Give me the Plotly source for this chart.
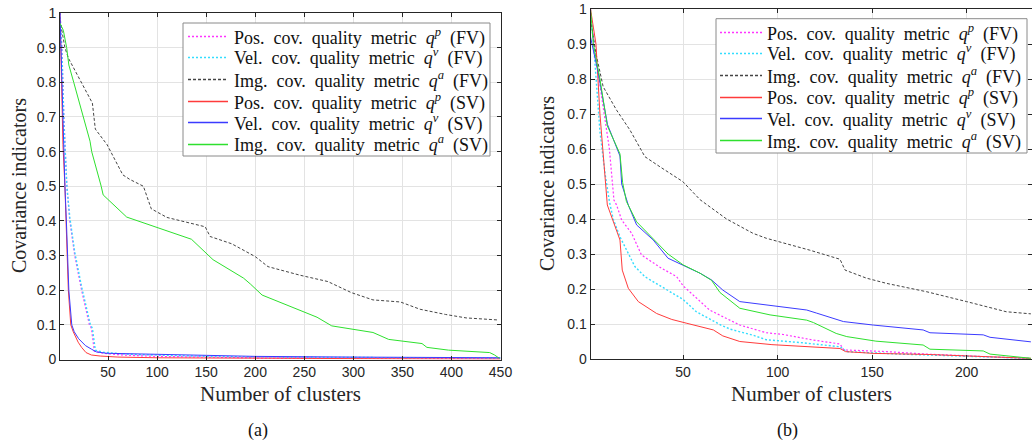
import plotly.graph_objects as go

W, H = 1032, 443

# ---------------- data: panel (a) ----------------
a_fv_pos_x = [1, 3, 5, 8, 11, 16, 23, 27, 31, 33, 36, 45, 60, 80, 100, 150, 200, 300, 450]
a_fv_pos_y = [1.0, 0.9, 0.7, 0.5, 0.4, 0.3, 0.2, 0.15, 0.1, 0.09, 0.024, 0.018, 0.014, 0.011, 0.009, 0.007, 0.005, 0.004, 0.003]
a_fv_vel_x = [1, 3, 5, 8, 11, 16, 23, 28, 32, 34, 37, 45, 60, 80, 100, 150, 200, 300, 450]
a_fv_vel_y = [1.0, 0.88, 0.68, 0.5, 0.41, 0.31, 0.21, 0.15, 0.1, 0.09, 0.027, 0.021, 0.017, 0.014, 0.012, 0.009, 0.007, 0.005, 0.004]
a_fv_img_x = [1, 4, 6, 9.5, 23, 32, 34, 37, 49, 65, 72, 86, 94, 110, 137, 149, 154, 176, 200, 205, 213,
              246, 274, 298, 320, 348, 368, 394, 415, 448]
a_fv_img_y = [0.98, 0.93, 0.9, 0.87, 0.8, 0.75, 0.74, 0.665, 0.62, 0.533, 0.52, 0.5, 0.435, 0.41, 0.39, 0.383, 0.355, 0.334, 0.297, 0.285, 0.268,
              0.243, 0.225, 0.193, 0.172, 0.166, 0.145, 0.13, 0.12, 0.114]
a_sv_pos_x = [1, 4, 6, 7, 9.5, 12, 14.5, 19.5, 23, 27.5, 33, 42, 60, 100, 150, 250, 350, 450]
a_sv_pos_y = [1.0, 0.62, 0.5, 0.4, 0.2, 0.1, 0.08, 0.05, 0.035, 0.02, 0.013, 0.01, 0.007, 0.005, 0.004, 0.003, 0.002, 0.001]
a_sv_vel_x = [1, 4.5, 6, 7.5, 10, 13, 15.5, 20, 27, 33, 38, 48, 72, 100, 150, 200, 300, 450]
a_sv_vel_y = [1.0, 0.6, 0.5, 0.4, 0.2, 0.1, 0.08, 0.06, 0.04, 0.03, 0.022, 0.018, 0.016, 0.015, 0.012, 0.009, 0.007, 0.005]
a_sv_img_x = [1, 4.4, 7.8, 10, 15, 25, 31.6, 33.3, 38.4, 43, 45, 69, 135, 157, 188, 195, 207, 230, 250, 263, 278,
              300, 320, 336, 348, 370, 375, 397, 439, 444, 449]
a_sv_img_y = [0.97, 0.95, 0.9, 0.85, 0.8, 0.7, 0.63, 0.6, 0.55, 0.5, 0.475, 0.411, 0.347, 0.288, 0.235, 0.218, 0.186, 0.16, 0.138, 0.122, 0.097,
              0.087, 0.078, 0.058, 0.054, 0.046, 0.035, 0.027, 0.02, 0.013, 0.003]

# ---------------- data: panel (b) ----------------
b_fv_pos_x = [1, 3.3, 11, 13.4, 14.8, 17.5, 22.8, 28, 37.8, 46.6, 50, 57, 64, 71, 80, 94, 103, 119, 133, 135, 158, 179, 200, 234]
b_fv_pos_y = [1.0, 0.88, 0.6, 0.454, 0.44, 0.397, 0.359, 0.297, 0.262, 0.235, 0.209, 0.175, 0.14, 0.121, 0.097, 0.075, 0.07, 0.054, 0.043, 0.026, 0.021, 0.014, 0.009, 0.001]
b_fv_vel_x = [1, 2.5, 6, 8.7, 11, 13, 16.6, 20, 24.5, 29.8, 41.3, 50, 57, 60, 66, 70, 75, 87, 94, 112, 133, 136.6, 165, 200, 234]
b_fv_vel_y = [0.98, 0.91, 0.65, 0.53, 0.45, 0.4, 0.349, 0.311, 0.264, 0.235, 0.197, 0.17, 0.135, 0.126, 0.107, 0.097, 0.085, 0.068, 0.055, 0.047, 0.035, 0.021, 0.014, 0.007, 0.002]
b_fv_img_x = [1, 4, 7.7, 14.8, 21.9, 29.8, 37.8, 49.8, 59, 73, 87, 94, 117, 133, 135.7, 147, 157.7, 179, 200, 221, 234]
b_fv_img_y = [0.97, 0.87, 0.778, 0.711, 0.654, 0.578, 0.549, 0.507, 0.455, 0.4, 0.359, 0.345, 0.311, 0.285, 0.254, 0.231, 0.216, 0.192, 0.164, 0.135, 0.129]
b_sv_pos_x = [1, 3.9, 6, 8.7, 9.9, 16.6, 17.8, 21, 26.3, 36, 44, 52, 60, 66, 71, 80, 97, 117, 133, 136, 151, 179, 207, 234]
b_sv_pos_y = [1.0, 0.9, 0.7, 0.51, 0.44, 0.34, 0.254, 0.202, 0.164, 0.13, 0.113, 0.102, 0.092, 0.083, 0.066, 0.05, 0.041, 0.035, 0.03, 0.021, 0.016, 0.013, 0.007, 0.002]
b_sv_vel_x = [1, 5, 10, 16.6, 17.5, 21, 25.4, 34.2, 42, 51.9, 59, 65, 71, 80, 99.5, 115.4, 120.7, 134.8, 150.6, 177, 180.6, 208.8, 212.4, 234]
b_sv_vel_y = [0.92, 0.82, 0.67, 0.58, 0.5, 0.44, 0.383, 0.34, 0.288, 0.262, 0.245, 0.226, 0.197, 0.164, 0.15, 0.14, 0.131, 0.107, 0.097, 0.083, 0.075, 0.069, 0.062, 0.049]
b_sv_img_x = [1, 2.5, 6, 9.9, 16.6, 18, 20, 25.4, 42, 50, 59, 65, 69.5, 80, 96, 115.4, 119, 131, 136.6, 152, 177, 180.6, 208.8, 212.4, 234]
b_sv_img_y = [1.0, 0.9, 0.8, 0.666, 0.586, 0.504, 0.45, 0.392, 0.3, 0.269, 0.245, 0.225, 0.19, 0.145, 0.126, 0.111, 0.104, 0.073, 0.064, 0.051, 0.04, 0.028, 0.023, 0.014, 0.002]

x_ticks_a = [50, 100, 150, 200, 250, 300, 350, 400, 450]
x_ticks_b = [50, 100, 150, 200]
y_ticks = [0, 0.1, 0.2, 0.3, 0.4, 0.5, 0.6, 0.7, 0.8, 0.9, 1]
y_tick_text = ["0", "0.1", "0.2", "0.3", "0.4", "0.5", "0.6", "0.7", "0.8", "0.9", "1"]

names = [
    "Pos.&nbsp; cov.&nbsp; quality&nbsp; metric&nbsp; <i>q</i><sup><i>p</i></sup>&nbsp; (FV)",
    "Vel.&nbsp; cov.&nbsp; quality&nbsp; metric&nbsp; <i>q</i><sup><i>v</i></sup>&nbsp; (FV)",
    "Img.&nbsp; cov.&nbsp; quality&nbsp; metric&nbsp; <i>q</i><sup><i>a</i></sup>&nbsp; (FV)",
    "Pos.&nbsp; cov.&nbsp; quality&nbsp; metric&nbsp; <i>q</i><sup><i>p</i></sup>&nbsp; (SV)",
    "Vel.&nbsp; cov.&nbsp; quality&nbsp; metric&nbsp; <i>q</i><sup><i>v</i></sup>&nbsp; (SV)",
    "Img.&nbsp; cov.&nbsp; quality&nbsp; metric&nbsp; <i>q</i><sup><i>a</i></sup>&nbsp; (SV)",
]
styles = [
    dict(color="#ff33ff", width=1.2, dash="2px,2px"),
    dict(color="#33ddff", width=1.4, dash="2px,2px"),
    dict(color="#444444", width=1, dash="3px,2px"),
    dict(color="#ff3b3b", width=1, dash="solid"),
    dict(color="#3b3bff", width=1, dash="solid"),
    dict(color="#2ee02e", width=1, dash="solid"),
]

series_a = [(a_fv_pos_x, a_fv_pos_y), (a_fv_vel_x, a_fv_vel_y), (a_fv_img_x, a_fv_img_y),
            (a_sv_pos_x, a_sv_pos_y), (a_sv_vel_x, a_sv_vel_y), (a_sv_img_x, a_sv_img_y)]
series_b = [(b_fv_pos_x, b_fv_pos_y), (b_fv_vel_x, b_fv_vel_y), (b_fv_img_x, b_fv_img_y),
            (b_sv_pos_x, b_sv_pos_y), (b_sv_vel_x, b_sv_vel_y), (b_sv_img_x, b_sv_img_y)]

fig = go.Figure()
for (x, y), nm, st in zip(series_a, names, styles):
    fig.add_trace(go.Scatter(x=x, y=y, mode="lines", name=nm, line=st,
                             xaxis="x", yaxis="y", showlegend=False))
for (x, y), nm, st in zip(series_b, names, styles):
    fig.add_trace(go.Scatter(x=x, y=y, mode="lines", name=nm, line=st,
                             xaxis="x2", yaxis="y2", showlegend=False))

# pixel -> paper-fraction helpers
def px(xp):
    return xp / W

def py(yp):
    return 1 - yp / H

axis_common = dict(
    showline=True, linecolor="#262626", linewidth=1, mirror="ticks",
    ticks="inside", ticklen=4, tickcolor="#262626", automargin=False,
    ticklabeloverflow="allow",
    showgrid=True, gridcolor="#e3e3e3", gridwidth=1, zeroline=False,
    tickfont=dict(family="Liberation Sans, Arial", size=14, color="#262626"),
)

serif = "Liberation Serif, Times New Roman, serif"

fig.update_layout(
    width=W, height=H,
    margin=dict(l=0, r=0, t=0, b=0, autoexpand=False),
    paper_bgcolor="white", plot_bgcolor="white",
    xaxis=dict(domain=[px(60), px(500.5)], range=[1, 450], tickvals=x_ticks_a, anchor="y", **axis_common),
    yaxis=dict(domain=[py(359.5), py(13)], range=[0, 1], tickvals=y_ticks, ticktext=y_tick_text, anchor="x", **axis_common),
    xaxis2=dict(domain=[px(590.5), 1.0], range=[1, 234.6], tickvals=x_ticks_b, anchor="y2", **axis_common),
    yaxis2=dict(domain=[py(359), py(9)], range=[0, 1], tickvals=y_ticks, ticktext=y_tick_text, anchor="x2", **axis_common),
    showlegend=False,
)

# ---- hand-built legends (box, line samples, labels) ----
legend_boxes = [
    dict(x0=183, x1=490, y0=23, y1=156, row0=35.5, dy=21.7, s0=188, s1=228, t0=232),
    dict(x0=716, x1=1027, y0=18.7, y1=153, row0=31.5, dy=21.7, s0=720, s1=762, t0=765),
]
for lb in legend_boxes:
    fig.add_shape(type="rect", xref="paper", yref="paper",
                  x0=px(lb["x0"]), x1=px(lb["x1"]), y0=py(lb["y1"]), y1=py(lb["y0"]),
                  line=dict(color="#8a8a8a", width=1), fillcolor="white", layer="above")
    for i, (nm, st) in enumerate(zip(names, styles)):
        yy = py(round(lb["row0"] + i * lb["dy"]) + 0.5)
        fig.add_shape(type="line", xref="paper", yref="paper",
                      x0=px(lb["s0"]), x1=px(lb["s1"]), y0=yy, y1=yy,
                      line=dict(color=st["color"], width=max(st["width"], 1.3), dash=st["dash"]), layer="above")
        fig.add_annotation(text=nm, x=px(lb["t0"]), y=yy, xref="paper", yref="paper",
                           showarrow=False, xanchor="left", yanchor="middle",
                           font=dict(family=serif, size=18, color="#111111"))

ann_font = dict(family=serif, size=20, color="#262626")
fig.add_annotation(text="Covariance indicators", x=px(19), y=py(186), xref="paper", yref="paper",
                   textangle=-90, showarrow=False, font=ann_font, xanchor="center", yanchor="middle")
fig.add_annotation(text="Covariance indicators", x=px(547), y=py(184), xref="paper", yref="paper",
                   textangle=-90, showarrow=False, font=ann_font, xanchor="center", yanchor="middle")
fig.add_annotation(text="Number of clusters", x=px(280), y=py(394), xref="paper", yref="paper",
                   showarrow=False, font=dict(family=serif, size=21, color="#262626"), xanchor="center", yanchor="middle")
fig.add_annotation(text="Number of clusters", x=px(811), y=py(394), xref="paper", yref="paper",
                   showarrow=False, font=dict(family=serif, size=21, color="#262626"), xanchor="center", yanchor="middle")
fig.add_annotation(text="(a)", x=px(258), y=py(430), xref="paper", yref="paper",
                   showarrow=False, font=dict(family=serif, size=18, color="#111111"), xanchor="center", yanchor="middle")
fig.add_annotation(text="(b)", x=px(787), y=py(430), xref="paper", yref="paper",
                   showarrow=False, font=dict(family=serif, size=18, color="#111111"), xanchor="center", yanchor="middle")

# the figure fills the whole 1032x443 window: drop the browser's default page margin
fig.write_html("out.html", config={"displayModeBar": False},
               post_script="document.body.style.margin='0px';document.body.style.overflow='hidden';")
